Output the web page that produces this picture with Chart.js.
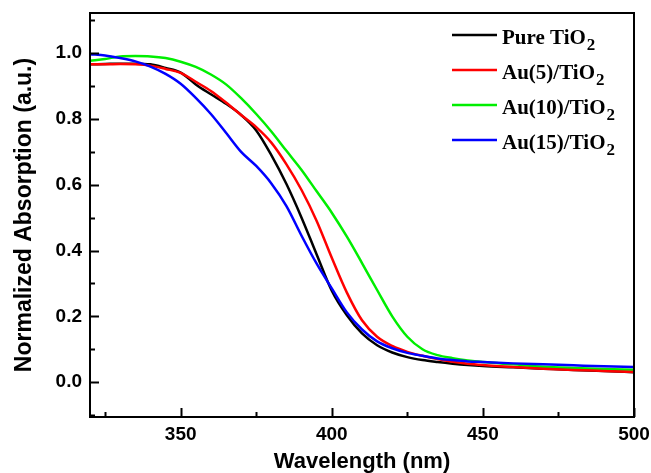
<!DOCTYPE html>
<html><head><meta charset="utf-8">
<script src="https://cdn.jsdelivr.net/npm/chart.js@4/dist/chart.umd.min.js"></script>
<style>html,body{margin:0;padding:0;background:#fff}</style>
</head><body>
<canvas id="c" width="651" height="473"></canvas>
<script>
const wavelengths = [320,325,330,335,340,345,350,355,360,365,370,375,380,385,390,395,400,405,410,415,420,425,430,435,440,445,450,460,470,480,490,500];
const pureTiO2 = [0.966,0.967,0.968,0.968,0.966,0.955,0.941,0.905,0.875,0.846,0.812,0.765,0.690,0.602,0.500,0.388,0.278,0.203,0.148,0.112,0.090,0.076,0.067,0.061,0.056,0.052,0.049,0.045,0.041,0.037,0.034,0.030];
const au5TiO2  = [0.966,0.966,0.967,0.966,0.962,0.952,0.940,0.913,0.885,0.850,0.812,0.775,0.728,0.662,0.584,0.490,0.378,0.272,0.188,0.138,0.110,0.092,0.080,0.070,0.062,0.056,0.052,0.046,0.041,0.037,0.034,0.031];
const au10TiO2 = [0.977,0.982,0.990,0.991,0.990,0.985,0.974,0.958,0.935,0.905,0.863,0.815,0.762,0.703,0.645,0.580,0.515,0.442,0.362,0.280,0.200,0.138,0.100,0.082,0.073,0.066,0.061,0.054,0.047,0.043,0.040,0.038];
const au15TiO2 = [0.997,0.993,0.985,0.975,0.959,0.937,0.907,0.864,0.815,0.758,0.700,0.657,0.604,0.535,0.445,0.360,0.285,0.212,0.160,0.124,0.103,0.089,0.080,0.072,0.067,0.063,0.061,0.057,0.054,0.051,0.048,0.046];
const seriesLabels = ['Pure TiO₂','Au(5)/TiO₂','Au(10)/TiO₂','Au(15)/TiO₂'];
const seriesColors = ['#000000','#ff0000','#00ee00','#0000ff'];
const xTickValues = [325,350,375,400,425,450,475,500];
const yTickValues = [-0.1,0,0.1,0.2,0.3,0.4,0.5,0.6,0.7,0.8,0.9,1.0,1.1];

const allSeries = [pureTiO2, au5TiO2, au10TiO2, au15TiO2];
const drawOrder = [3,1,2,0];
const datasets = allSeries.map((vals,i)=>({
  label: seriesLabels[i],
  data: wavelengths.map((w,j)=>({x:w,y:vals[j]})),
  borderColor: seriesColors[i],
  backgroundColor: seriesColors[i],
  borderWidth: 2.5,
  pointRadius: 0,
  cubicInterpolationMode: 'monotone',
  fill: false,
  order: drawOrder[i]
}));

const SANS = '"Liberation Sans", Arial, sans-serif';
const SERIF = '"Liberation Serif", "Times New Roman", serif';

const framePlugin = {
  id: 'frameTicks',
  afterDatasetsDraw(chart){
    const {ctx, chartArea:a, scales:{x, y}} = chart;
    ctx.save();
    ctx.strokeStyle = '#000';
    ctx.lineWidth = 2;
    ctx.strokeRect(a.left, a.top, a.right - a.left, a.bottom - a.top);
    x.ticks.forEach(t => {
      const px = Math.round(x.getPixelForValue(t.value)) + 0.5;
      const len = (t.value % 50 === 0) ? 9 : 5;
      ctx.beginPath(); ctx.moveTo(px, a.bottom); ctx.lineTo(px, a.bottom - len); ctx.stroke();
    });
    y.ticks.forEach(t => {
      const py = Math.round(y.getPixelForValue(t.value)) + 0.5;
      const major = Math.abs(Math.round(t.value * 10)) % 2 === 0;
      const len = major ? 9 : 5;
      ctx.beginPath(); ctx.moveTo(a.left, py); ctx.lineTo(a.left + len, py); ctx.stroke();
    });
    ctx.restore();
  }
};

const legendPlugin = {
  id: 'subLegend',
  afterDraw(chart){
    const {ctx, chartArea:a} = chart;
    ctx.save();
    chart.data.datasets.forEach((ds, i) => {
      const y0 = a.top + 22 + i * 35;
      const x0 = a.right - 182;
      ctx.strokeStyle = ds.borderColor;
      ctx.lineWidth = 2.5;
      ctx.beginPath(); ctx.moveTo(x0, y0); ctx.lineTo(x0 + 45, y0); ctx.stroke();
      const parts = ds.label.split('₂');
      ctx.fillStyle = '#000';
      ctx.textBaseline = 'alphabetic';
      ctx.textAlign = 'left';
      ctx.font = 'bold 21px ' + SERIF;
      ctx.fillText(parts[0], x0 + 50, y0 + 9);
      const w = ctx.measureText(parts[0]).width;
      ctx.font = 'bold 17px ' + SERIF;
      ctx.fillText('2', x0 + 50 + w + 1, y0 + 15);
    });
    ctx.restore();
  }
};

new Chart(document.getElementById('c'), {
  type: 'line',
  data: { datasets },
  plugins: [framePlugin, legendPlugin],
  options: {
    responsive: false,
    animation: false,
    layout: { padding: { left: 0, top: 13, right: 17, bottom: 0 } },
    plugins: { legend: { display: false }, tooltip: { enabled: false } },
    scales: {
      x: {
        type: 'linear', min: 320, max: 500,
        afterBuildTicks: s => { s.ticks = xTickValues.map(v => ({value: v})); },
        afterFit: s => { s.height = 56; s.paddingLeft = 0; s.paddingRight = 0; },
        grid: { display: false, drawTicks: false },
        border: { display: false },
        ticks: {
          autoSkip: false, maxRotation: 0, padding: 6, color: '#000',
          font: { family: SANS, size: 19, weight: 'bold' },
          callback: v => (v % 50 === 0) ? String(v) : ''
        },
        title: {
          display: true, text: 'Wavelength (nm)', color: '#000',
          font: { family: SANS, size: 22, weight: 'bold', lineHeight: 1 },
          padding: { top: 0, bottom: 0 }
        }
      },
      y: {
        type: 'linear', min: -0.106, max: 1.122,
        afterBuildTicks: s => { s.ticks = yTickValues.map(v => ({value: v})); },
        afterFit: s => { s.width = 90; s.paddingTop = 0; s.paddingBottom = 0; },
        grid: { display: false, drawTicks: false },
        border: { display: false },
        ticks: {
          autoSkip: false, padding: 8, color: '#000',
          font: { family: SANS, size: 19, weight: 'bold' },
          callback: v => {
            const k = Math.round(v * 10);
            return (k >= 0 && k <= 10 && k % 2 === 0) ? (k / 10).toFixed(1) : '';
          }
        },
        title: {
          display: true, text: 'Normalized Absorption (a.u.)', color: '#000',
          font: { family: SANS, size: 23, weight: 'bold', lineHeight: 1 },
          padding: { top: 13, bottom: 0 }
        }
      }
    }
  }
});
</script>
</body></html>
